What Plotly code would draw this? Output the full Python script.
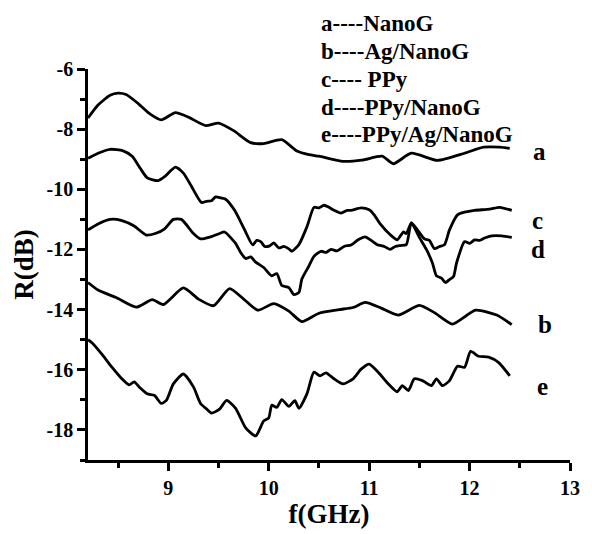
import plotly.graph_objects as go

# ---- data ----
a_f = [8.2, 8.3, 8.42, 8.5, 8.58, 8.7, 8.82, 8.93, 9.07, 9.2, 9.37, 9.5, 9.65, 9.82, 9.95, 10.13, 10.28, 10.4, 10.5, 10.74, 10.93, 11.13, 11.24, 11.42, 11.68, 11.95, 12.14, 12.3, 12.4]
a_R = [-7.63, -7.2, -6.87, -6.8, -6.85, -7.15, -7.5, -7.69, -7.45, -7.6, -7.88, -7.8, -8.05, -8.45, -8.48, -8.35, -8.73, -8.85, -8.9, -9.07, -9.03, -8.9, -9.15, -8.8, -9.04, -8.8, -8.6, -8.6, -8.64]

b_f = [8.2, 8.3, 8.48, 8.68, 8.84, 8.95, 9.15, 9.3, 9.45, 9.61, 9.75, 9.89, 10.05, 10.2, 10.33, 10.5, 10.7, 10.84, 10.96, 11.12, 11.29, 11.5, 11.65, 11.83, 12.06, 12.27, 12.42]
b_R = [-13.1, -13.35, -13.6, -13.92, -13.67, -13.83, -13.28, -13.65, -13.87, -13.3, -13.65, -14.02, -13.8, -14.05, -14.4, -14.12, -14.0, -13.93, -13.76, -13.95, -14.18, -13.86, -14.1, -14.48, -14.02, -14.18, -14.5]

c_f = [8.2, 8.3, 8.42, 8.55, 8.64, 8.72, 8.79, 8.9, 8.97, 9.07, 9.15, 9.23, 9.33, 9.38, 9.43, 9.47, 9.5, 9.57, 9.66, 9.76, 9.84, 9.88, 9.92, 9.96, 10.01, 10.05, 10.1, 10.15, 10.2, 10.23, 10.3, 10.38, 10.45, 10.5, 10.55, 10.6, 10.65, 10.72, 10.78, 10.82, 10.92, 11.0, 11.05, 11.11, 11.21, 11.28, 11.34, 11.37, 11.42, 11.47, 11.55, 11.6, 11.65, 11.7, 11.75, 11.8, 11.88, 11.95, 12.05, 12.2, 12.3, 12.42]
c_R = [-8.97, -8.8, -8.67, -8.72, -8.9, -9.3, -9.62, -9.71, -9.56, -9.26, -9.46, -9.9, -10.44, -10.4, -10.38, -10.25, -10.27, -10.33, -10.7, -11.35, -11.85, -11.7, -11.74, -11.9, -11.88, -11.78, -11.95, -11.9, -11.98, -12.06, -11.84, -11.25, -10.6, -10.62, -10.53, -10.6, -10.7, -10.79, -10.7, -10.7, -10.62, -10.68, -10.85, -11.15, -11.51, -11.68, -11.42, -11.47, -11.12, -11.3, -11.65, -11.7, -11.97, -11.9, -11.84, -11.35, -10.85, -10.76, -10.7, -10.66, -10.6, -10.7]

d_f = [8.2, 8.3, 8.42, 8.53, 8.66, 8.78, 8.87, 8.96, 9.05, 9.13, 9.25, 9.32, 9.42, 9.51, 9.56, 9.67, 9.72, 9.77, 9.82, 9.87, 9.95, 10.03, 10.08, 10.13, 10.2, 10.25, 10.3, 10.33, 10.4, 10.45, 10.52, 10.57, 10.62, 10.68, 10.75, 10.82, 10.89, 10.96, 11.02, 11.08, 11.15, 11.21, 11.26, 11.31, 11.37, 11.42, 11.5, 11.57, 11.63, 11.67, 11.72, 11.76, 11.8, 11.84, 11.87, 11.95, 12.0, 12.05, 12.1, 12.15, 12.22, 12.32, 12.42]
d_R = [-11.35, -11.15, -11.0, -11.03, -11.22, -11.52, -11.47, -11.32, -11.0, -11.0, -11.47, -11.65, -11.58, -11.47, -11.42, -11.8, -12.1, -12.3, -12.25, -12.42, -12.6, -12.88, -12.8, -13.2, -13.27, -13.5, -13.43, -12.98, -12.55, -12.23, -12.06, -12.1, -12.0, -12.05, -11.9, -11.85, -11.68, -11.58, -11.7, -11.84, -11.9, -12.0, -11.9, -11.87, -11.84, -11.12, -11.6, -12.0, -12.45, -12.88, -12.95, -13.1, -13.0, -12.9, -12.45, -11.74, -11.8, -11.68, -11.7, -11.62, -11.55, -11.55, -11.6]

e_f = [8.2, 8.24, 8.34, 8.44, 8.53, 8.61, 8.66, 8.71, 8.79, 8.86, 8.93, 8.98, 9.05, 9.15, 9.25, 9.32, 9.38, 9.43, 9.51, 9.58, 9.67, 9.77, 9.87, 9.95, 10.0, 10.03, 10.08, 10.13, 10.2, 10.26, 10.3, 10.38, 10.45, 10.51, 10.57, 10.65, 10.74, 10.84, 10.92, 11.0, 11.09, 11.18, 11.28, 11.33, 11.39, 11.45, 11.53, 11.62, 11.67, 11.73, 11.8, 11.88, 11.95, 12.01, 12.09, 12.19, 12.29, 12.4]
e_R = [-15.0, -15.1, -15.49, -15.92, -16.27, -16.5, -16.4, -16.57, -16.8, -16.85, -17.12, -17.02, -16.47, -16.14, -16.57, -17.12, -17.3, -17.44, -17.31, -17.02, -17.28, -17.93, -18.2, -17.7, -17.6, -17.18, -17.25, -16.99, -17.22, -17.03, -17.28, -16.8, -16.08, -16.2, -16.1, -16.3, -16.47, -16.3, -15.98, -15.81, -16.08, -16.43, -16.73, -16.53, -16.69, -16.3, -16.36, -16.53, -16.3, -16.53, -16.36, -15.88, -15.92, -15.39, -15.55, -15.58, -15.76, -16.2]

series = [("a", a_f, a_R), ("b", b_f, b_R), ("c", c_f, c_R), ("d", d_f, d_R), ("e", e_f, e_R)]

legend_lines = ["a----NanoG", "b----Ag/NanoG", "c---- PPy", "d----PPy/NanoG", "e----PPy/Ag/NanoG"]

curve_labels = ["a", "c", "d", "b", "e"]
curve_label_x = [12.7, 12.68, 12.68, 12.75, 12.73]
curve_label_y = [-8.74, -11.05, -11.99, -14.51, -16.56]

x_ticks = [9, 10, 11, 12, 13]
y_ticks = [-18, -16, -14, -12, -10, -8, -6]

FONT = "Liberation Serif"


def bfont(size):
    return dict(family=FONT, size=size, color="black", weight="bold")


fig = go.Figure()
for name, fx, ry in series:
    fig.add_trace(go.Scatter(x=fx, y=ry, mode="lines", name=name,
                             line=dict(color="black", width=2.8, shape="spline", smoothing=0.6),
                             showlegend=False))

for lab, lx, ly in zip(curve_labels, curve_label_x, curve_label_y):
    fig.add_annotation(x=lx, y=ly, xref="x", yref="y", text=lab,
                       showarrow=False, font=bfont(25))

leg_py = [23, 51, 80, 108, 136]
for txt, py in zip(legend_lines, leg_py):
    fig.add_annotation(x=(322 - 88) / 489.0, y=(467 - py) / 398.0, xref="paper", yref="paper",
                       text=txt, showarrow=False, xanchor="left", yanchor="middle",
                       font=bfont(23))

axis_common = dict(showline=True, linewidth=2.5, linecolor="black", showgrid=False,
                   zeroline=False, ticks="outside", ticklen=8, tickwidth=2.5, tickcolor="black",
                   tickfont=bfont(20))

fig.update_xaxes(range=[8.2, 13], tickvals=x_ticks, ticktext=[f"<b>{v}</b>" for v in x_ticks],
                 minor=dict(tickvals=[8.5, 9.5, 10.5, 11.5, 12.5], ticklen=5, tickwidth=2.5,
                            tickcolor="black", ticks="outside"),
                 title=dict(text="f(GHz)", font=bfont(27), standoff=4),
                 **axis_common)
fig.update_yaxes(range=[-19, -6], tickvals=y_ticks, ticktext=[f"<b>{v}</b>" for v in y_ticks],
                 minor=dict(tickvals=[-19, -17, -15, -13, -11, -9, -7], ticklen=5, tickwidth=2.5,
                            tickcolor="black", ticks="outside"),
                 title=dict(text="R(dB)", font=bfont(27), standoff=6),
                 **axis_common)

fig.update_layout(width=592, height=534, margin=dict(l=88, r=15, t=69, b=67),
                  plot_bgcolor="white", paper_bgcolor="white")

fig.write_html("out.html")
